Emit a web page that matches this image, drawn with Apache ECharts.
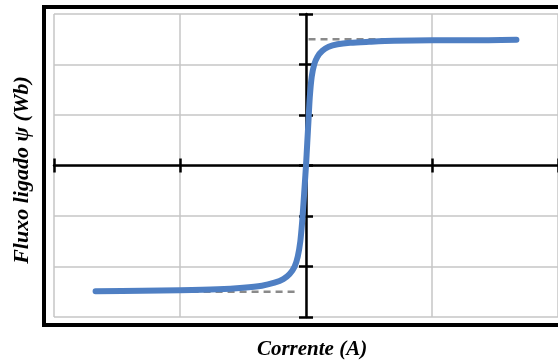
<!DOCTYPE html>
<html>
<head>
<meta charset="utf-8">
<script src="https://cdn.jsdelivr.net/npm/echarts@6/dist/echarts.min.js"></script>
<style>
  html, body { margin: 0; padding: 0; background: #fff; }
  #chart { width: 558px; height: 362px; }
</style>
</head>
<body>
<div id="chart"></div>
<script>
// curva de magnetização (corrente x fluxo ligado)
var current = [-1.67, -1.3, -1.0, -0.7, -0.5, -0.35, -0.25, -0.18, -0.13, -0.09, -0.065, -0.045, -0.03, -0.02, -0.01, 0,
               0.01, 0.02, 0.03, 0.045, 0.065, 0.09, 0.13, 0.18, 0.25, 0.35, 0.5, 0.7, 1.0, 1.3, 1.67];
var flux = [-2.49, -2.48, -2.47, -2.45, -2.42, -2.38, -2.32, -2.25, -2.15, -2.0, -1.8, -1.5, -1.1, -0.75, -0.38, 0,
            0.45, 0.9, 1.35, 1.75, 2.0, 2.15, 2.27, 2.35, 2.4, 2.43, 2.45, 2.47, 2.48, 2.48, 2.49];

// linhas de saturação (tracejadas)
var satUpperX = [0.02, 1.67];
var satUpperY = [2.5, 2.5];
var satLowerX = [-1.67, -0.06];
var satLowerY = [-2.5, -2.5];

var xRange = [-2, 2];
var yRange = [-3, 3];

function pairs(xs, ys) {
    var out = [];
    for (var i = 0; i < xs.length; i++) out.push([xs[i], ys[i]]);
    return out;
}

var chart = echarts.init(document.getElementById('chart'));

var tickStyle = { show: true, length: 7, lineStyle: { color: '#000', width: 2.5 } };
var lineStyle = { color: '#000', width: 2.5 };

var option = {
    animation: false,
    grid: { left: 54, top: 14, width: 508, height: 303 },
    xAxis: [
        {
            type: 'value', min: xRange[0], max: xRange[1], interval: 1,
            position: 'bottom',
            axisLine: { show: true, onZero: true, onZeroAxisIndex: 0, lineStyle: lineStyle },
            axisTick: tickStyle,
            axisLabel: { show: false },
            splitLine: { show: true, lineStyle: { color: '#c6c6c6', width: 1.5 } }
        },
        {
            type: 'value', min: xRange[0], max: xRange[1], interval: 1,
            position: 'top',
            axisLine: { show: false, onZero: true, onZeroAxisIndex: 0 },
            axisTick: tickStyle,
            axisLabel: { show: false },
            splitLine: { show: false }
        }
    ],
    yAxis: [
        {
            type: 'value', min: yRange[0], max: yRange[1], interval: 1,
            position: 'left',
            axisLine: { show: true, onZero: true, onZeroAxisIndex: 0, lineStyle: lineStyle },
            axisTick: tickStyle,
            axisLabel: { show: false },
            splitLine: { show: true, lineStyle: { color: '#c6c6c6', width: 1.5 } }
        },
        {
            type: 'value', min: yRange[0], max: yRange[1], interval: 1,
            position: 'right',
            axisLine: { show: false, onZero: true, onZeroAxisIndex: 0 },
            axisTick: tickStyle,
            axisLabel: { show: false },
            splitLine: { show: false }
        }
    ],
    graphic: [
        {
            type: 'rect', z: 100,
            shape: { x: 44, y: 7, width: 540, height: 318 },
            style: { fill: null, stroke: '#000', lineWidth: 4 }
        },
        {
            type: 'text', x: 312, y: 350, z: 100,
            style: {
                text: 'Corrente (A)', fill: '#000',
                font: 'italic bold 21px "Liberation Serif", "DejaVu Serif", serif',
                align: 'center', verticalAlign: 'middle'
            }
        },
        {
            type: 'text', x: 22, y: 170, rotation: Math.PI / 2, z: 100,
            style: {
                text: 'Fluxo ligado ψ (Wb)', fill: '#000',
                font: 'italic bold 22px "Liberation Serif", "DejaVu Serif", serif',
                align: 'center', verticalAlign: 'middle'
            }
        }
    ],
    series: [
        {
            type: 'line', z: 3, symbol: 'none',
            lineStyle: { color: '#8a8a8a', width: 2.5, type: [7, 5] },
            data: pairs(satUpperX, satUpperY)
        },
        {
            type: 'line', z: 3, symbol: 'none',
            lineStyle: { color: '#8a8a8a', width: 2.5, type: [7, 5] },
            data: pairs(satLowerX, satLowerY)
        },
        {
            type: 'line', z: 4, symbol: 'none', smooth: 0.3,
            lineStyle: { color: '#4f7fc3', width: 6, cap: 'round', join: 'round' },
            data: pairs(current, flux)
        }
    ]
};

chart.setOption(option);
</script>
</body>
</html>
